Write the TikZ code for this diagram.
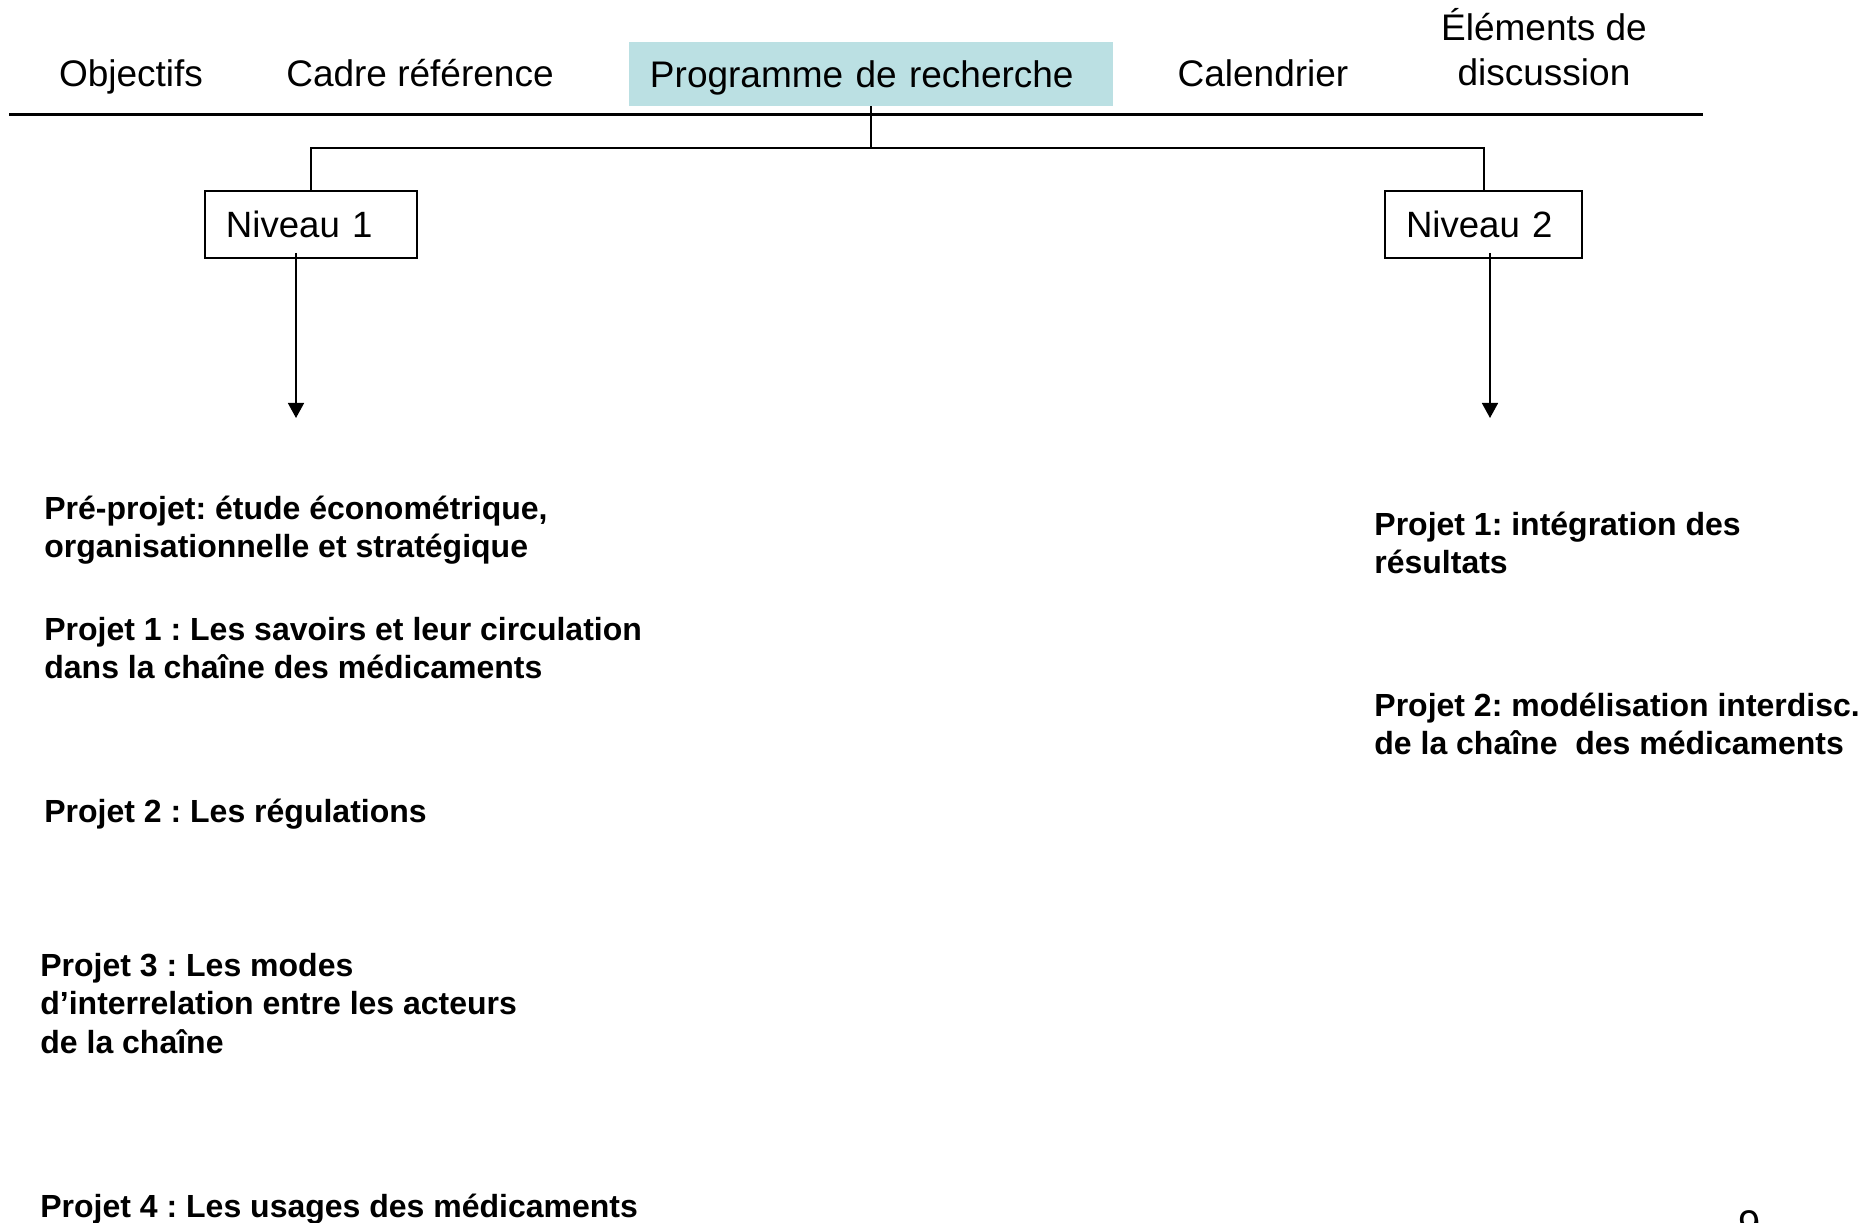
\documentclass[tikz,border=0pt]{standalone}
\usepackage{fontspec}
\setmainfont{Liberation Sans}
\usetikzlibrary{arrows.meta}
\definecolor{hl}{RGB}{187,224,227}
\frenchspacing
\begin{document}
\begin{tikzpicture}[x=0.5bp,y=-0.5bp,
  tab/.style={font=\fontsize{18.5bp}{22.5bp}\selectfont, inner sep=0pt, anchor=base, align=center},
  lvl/.style={draw, line width=1bp, font=\fontsize{18.3bp}{22bp}\selectfont, inner ysep=0pt, inner xsep=10.5bp, minimum height=33.5bp, align=left},
  proj/.style={font=\fontsize{16bp}{19bp}\selectfont\bfseries, inner sep=0pt, anchor=base west, align=left},
  thinline/.style={line width=0.6bp},
  busline/.style={line width=1bp},
  arr/.style={line width=0.8bp, -{Triangle[width=8bp,length=7.5bp]}}
]
\useasboundingbox (0,0) rectangle (1862,1223);

% header tabs
\node[fill=hl, font=\fontsize{18.5bp}{22.5bp}\selectfont, inner ysep=0pt, inner xsep=10.5bp,
      text width=221bp, minimum height=32bp, text depth=0pt, align=left] (prog) at (871,74) {Programme de recherche};
\node[tab] (obj) at (131,87) {Objectifs};
\node[tab] (cadre) at (420,87) {Cadre référence};
\node[tab] (cal) at (1263,87) {Calendrier};
\node[tab] (elem) at (1544,85.5) {Éléments de\\discussion};

% horizontal rule
\draw[line width=1.5bp] (9,115) -- (1703,115);

% level boxes
\node[lvl, text width=85bp] (n1) at (311,224.5) {Niveau 1};
\node[lvl, text width=77.5bp] (n2) at (1483.5,224.5) {Niveau 2};

% tree connectors
\draw[thinline] (prog.south) -- ++(0,42) coordinate (bj);
\draw[busline] (n1.north) |- (bj) -| (n2.north);

% arrows
\coordinate (a1s) at (296,253);
\coordinate (a1e) at (296,418);
\coordinate (a2s) at (1490,253);
\coordinate (a2e) at (1490,418);
\draw[arr] (a1s) -- (a1e);
\draw[arr] (a2s) -- (a2e);

% level 1 projects (anchored at the baseline of the last line)
\node[proj] (pre) at (44,558) {Pré-projet: étude économétrique,\\organisationnelle et stratégique};
\node[proj] (p1) at (44,678.5) {Projet 1 : Les savoirs et leur circulation\\dans la chaîne des médicaments};
\node[proj] (p2) at (44,823) {Projet 2 : Les régulations};
\node[proj] (p3) at (40,1053) {Projet 3 : Les modes\\d’interrelation entre les acteurs\\de la chaîne};
\node[proj] (p4) at (40,1217) {Projet 4 : Les usages des médicaments};

% level 2 projects
\node[proj] (q1) at (1374,573.5) {Projet 1: intégration des\\résultats};
\node[proj] (q2) at (1374,755) {Projet 2: modélisation interdisc.\\de la chaîne~~des médicaments};

% page number
\node[font=\fontsize{20bp}{24bp}\selectfont, inner sep=0pt, anchor=base] (pg) at (1750,1238) {9};
\end{tikzpicture}
\end{document}
